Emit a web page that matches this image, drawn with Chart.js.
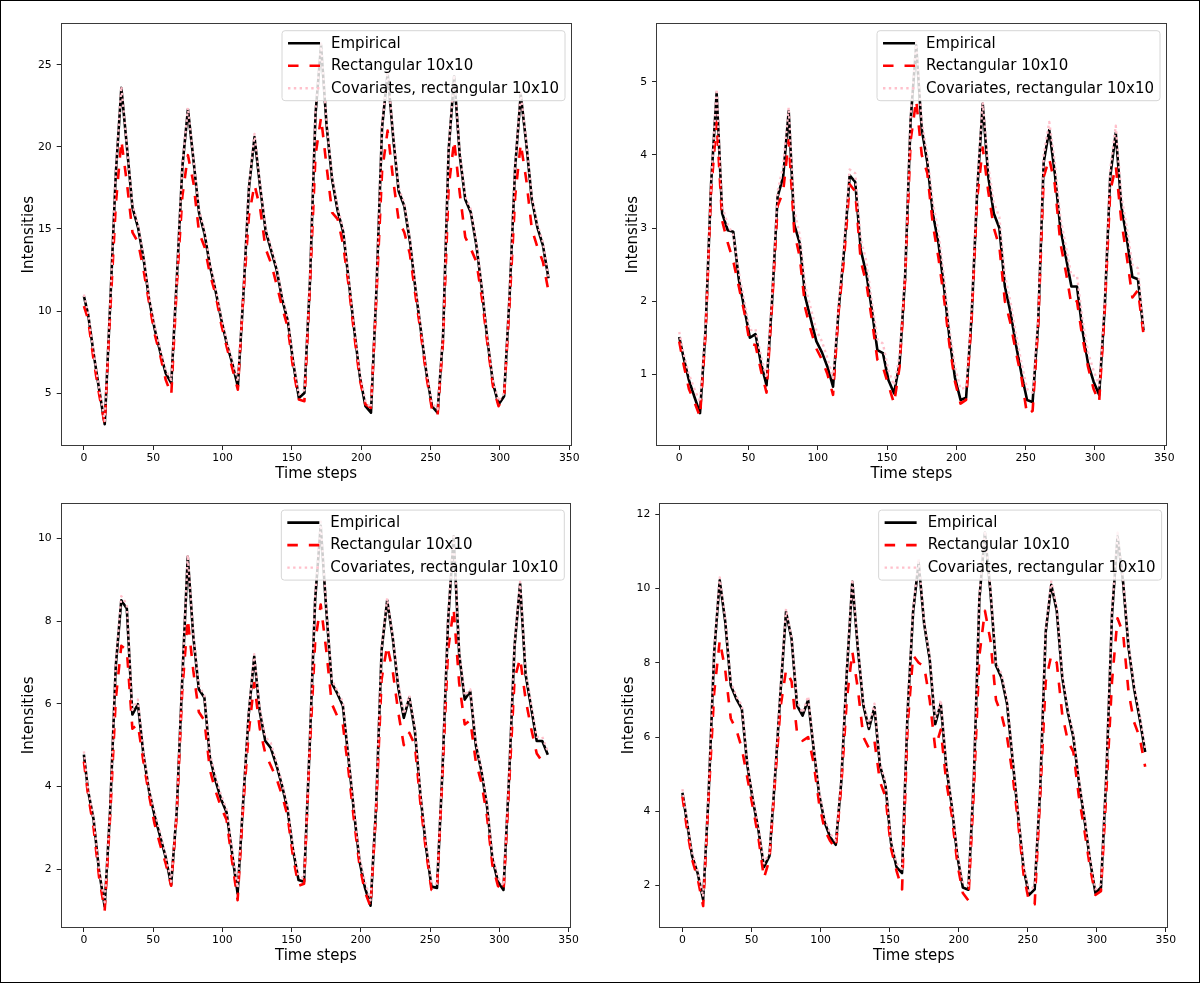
<!DOCTYPE html>
<html>
<head>
<meta charset="utf-8">
<script src="https://cdn.jsdelivr.net/npm/chart.js@4.4.1/dist/chart.umd.min.js"></script>
<style>
    html, body { margin: 0; padding: 0; background: #fff; }
    #page { position: relative; width: 1200px; height: 983px; overflow: hidden; background: #fff; }
    .panel { position: absolute; }
    #frame { position: absolute; left: 0; top: 0; width: 1200px; height: 983px; box-sizing: border-box; border: 1px solid #000; pointer-events: none; }
</style>
</head>
<body>
<div id="page">
    <canvas id="c1" class="panel" style="left:0px;top:0px"></canvas>
    <canvas id="c2" class="panel" style="left:600px;top:0px"></canvas>
    <canvas id="c3" class="panel" style="left:0px;top:490px"></canvas>
    <canvas id="c4" class="panel" style="left:600px;top:490px"></canvas>
    <div id="frame"></div>
</div>
<script>
// ==================
//       DATA
// ==================

const steps = [0, 3, 7, 11, 15, 19, 23,
    27, 31, 35, 39, 43, 47, 51, 55, 59, 63, 67, 71,
    75, 79, 83, 87, 91, 95, 99, 103, 107, 111, 115, 119,
    123, 127, 131, 135, 139, 143, 147, 151, 155, 159, 163, 167,
    171, 175, 179, 183, 187, 191, 195, 199, 203, 207, 211, 215,
    219, 223, 227, 231, 235, 239, 243, 247, 251, 255, 259, 263,
    267, 271, 275, 279, 283, 287, 291, 295, 299, 303, 307, 311,
    315, 319, 323, 327, 331, 335]

const xTicks = [0, 50, 100, 150, 200, 250, 300, 350]

const labels = ["Empirical", "Rectangular 10x10", "Covariates, rectangular 10x10"]

// PANEL 1 (TOP LEFT)
const p1Empirical = [10.9, 9.8, 7.4, 5.2, 3.1, 10.5, 18.4,
    23.6, 20.0, 16.3, 15.1, 13.2, 10.7, 8.9, 7.5, 6.2, 5.6, 12.0, 18.8,
    22.3, 19.2, 16.0, 14.7, 12.7, 11.2, 9.5, 8.0, 6.8, 5.4, 11.0, 17.5,
    20.6, 17.6, 14.9, 13.7, 12.5, 10.7, 9.4, 6.8, 4.7, 5.0, 11.8, 22.0,
    26.2, 21.3, 18.0, 16.1, 14.8, 11.8, 8.8, 6.0, 4.2, 3.8, 11.4, 21.2,
    24.5, 20.6, 17.3, 16.4, 14.3, 11.4, 8.8, 6.2, 4.2, 3.8, 8.5, 19.8,
    24.3, 19.5, 16.8, 16.0, 14.0, 11.3, 8.2, 5.6, 4.3, 4.8, 11.0, 18.8,
    23.2, 20.2, 16.8, 15.1, 14.0, 12.0]
const p1Rect = [10.3, 9.5, 7.0, 4.9, 3.1, 10.0, 16.5,
    20.4, 17.8, 14.8, 14.2, 12.5, 10.5, 8.6, 7.3, 5.8, 4.9, 11.6, 17.0,
    19.5, 17.8, 14.8, 13.9, 12.2, 11.0, 9.2, 7.8, 6.5, 5.2, 11.0, 15.8,
    17.7, 16.3, 13.8, 12.9, 11.6, 10.2, 9.0, 6.4, 4.6, 4.5, 11.5, 19.5,
    21.8, 18.8, 16.0, 15.6, 14.0, 11.5, 8.5, 5.8, 4.3, 4.1, 11.0, 18.5,
    21.0, 18.0, 15.5, 14.8, 13.5, 11.0, 8.6, 6.0, 4.0, 3.6, 8.2, 17.5,
    20.4, 17.2, 14.5, 13.8, 13.0, 10.8, 8.0, 5.4, 4.2, 4.8, 10.5, 17.0,
    20.2, 18.0, 15.0, 13.9, 13.0, 11.2]
const p1Cov = [11.0, 9.9, 7.5, 5.3, 3.3, 10.6, 18.5,
    23.7, 20.1, 16.5, 15.3, 13.4, 10.9, 9.1, 7.7, 6.4, 5.8, 12.1, 18.9,
    22.4, 19.3, 16.2, 14.9, 12.9, 11.4, 9.7, 8.2, 7.0, 5.7, 11.2, 17.6,
    20.8, 17.8, 15.1, 13.9, 12.7, 10.9, 9.6, 7.0, 4.9, 5.2, 12.0, 22.2,
    26.3, 21.5, 18.2, 16.3, 15.0, 12.0, 9.0, 6.2, 4.5, 4.1, 11.5, 21.3,
    24.6, 20.8, 17.5, 16.6, 14.5, 11.6, 9.0, 6.4, 4.4, 4.0, 8.7, 19.9,
    24.4, 19.7, 17.0, 16.2, 14.2, 11.5, 8.4, 5.8, 4.5, 5.0, 11.2, 18.9,
    23.3, 20.4, 17.0, 15.3, 14.2, 12.1]
const p1Ticks = [5, 10, 15, 20, 25]

// PANEL 2 (TOP RIGHT)
const p2Empirical = [1.51, 1.24, 0.92, 0.69, 0.47, 1.6, 3.6,
    4.85, 3.2, 2.97, 2.95, 2.3, 1.9, 1.5, 1.55, 1.15, 0.85, 2.0, 3.43,
    3.7, 4.6, 3.05, 2.79, 2.05, 1.75, 1.45, 1.3, 1.1, 0.83, 1.88, 2.7,
    3.72, 3.63, 2.7, 2.38, 1.88, 1.33, 1.29, 0.92, 0.74, 1.15, 2.33, 4.48,
    5.5, 4.35, 3.9, 3.2, 2.8, 2.2, 1.5, 0.95, 0.65, 0.68, 1.8, 3.5,
    4.7, 3.7, 3.2, 3.0, 2.2, 1.85, 1.4, 1.0, 0.65, 0.62, 1.7, 3.9,
    4.34, 3.75, 3.0, 2.6, 2.2, 2.2, 1.6, 1.15, 0.9, 0.72, 1.9, 3.7,
    4.3, 3.3, 2.85, 2.33, 2.3, 1.6]
const p2Rect = [1.45, 1.15, 0.8, 0.62, 0.42, 1.55, 3.5,
    4.45, 3.1, 2.8, 2.55, 2.2, 1.85, 1.42, 1.4, 1.05, 0.75, 1.95, 3.3,
    3.5, 4.2, 2.95, 2.6, 1.9, 1.6, 1.35, 1.2, 1.0, 0.72, 1.85, 2.6,
    3.6, 3.5, 2.55, 2.25, 1.75, 1.2, 1.1, 0.85, 0.6, 1.1, 2.3, 4.2,
    4.75, 4.0, 3.75, 3.05, 2.6, 2.05, 1.4, 0.9, 0.6, 0.65, 1.75, 3.4,
    4.1, 3.5, 3.0, 2.75, 2.0, 1.7, 1.3, 0.95, 0.45, 0.5, 1.65, 3.7,
    3.95, 3.6, 2.8, 2.4, 1.95, 2.0, 1.5, 1.1, 0.8, 0.62, 1.85, 3.5,
    3.85, 3.1, 2.6, 2.05, 2.15, 1.55]
const p2Cov = [1.58, 1.3, 1.0, 0.8, 0.62, 1.65, 3.62,
    4.9, 3.3, 3.05, 2.9, 2.4, 2.0, 1.6, 1.62, 1.25, 0.95, 2.1, 3.5,
    3.85, 4.65, 3.25, 2.9, 2.2, 1.9, 1.6, 1.45, 1.22, 0.95, 1.95, 2.8,
    3.8, 3.75, 2.85, 2.55, 2.0, 1.48, 1.42, 1.05, 0.85, 1.25, 2.4, 4.55,
    5.55, 4.45, 4.0, 3.35, 2.95, 2.35, 1.62, 1.1, 0.8, 0.82, 1.9, 3.6,
    4.72, 3.85, 3.35, 3.15, 2.35, 2.0, 1.55, 1.15, 0.8, 0.75, 1.8, 4.0,
    4.45, 3.9, 3.15, 2.75, 2.35, 2.35, 1.75, 1.3, 1.05, 0.85, 2.0, 3.8,
    4.4, 3.45, 3.0, 2.5, 2.45, 1.65]
const p2Ticks = [1, 2, 3, 4, 5]

// PANEL 3 (BOTTOM LEFT)
const p3Empirical = [4.77, 3.9, 3.2, 1.95, 1.1, 3.46, 6.9,
    8.5, 8.3, 5.74, 5.99, 4.77, 3.9, 3.3, 2.8, 2.3, 1.62, 3.38, 6.56,
    9.55, 7.63, 6.35, 6.15, 4.7, 4.15, 3.7, 3.38, 2.39, 1.41, 3.62, 5.74,
    7.14, 5.8, 5.1, 4.93, 4.52, 4.03, 3.46, 2.47, 1.74, 1.7, 4.93, 8.52,
    10.3, 8.28, 6.5, 6.25, 5.95, 4.7, 3.4, 2.2, 1.55, 1.12, 3.5, 7.3,
    8.5, 7.6, 6.4, 5.66, 6.15, 5.35, 3.8, 2.55, 1.58, 1.55, 4.44, 8.0,
    10.05, 7.2, 6.1, 6.3, 5.0, 4.38, 3.55, 2.25, 1.7, 1.5, 4.2, 7.4,
    8.9, 6.7, 5.9, 5.1, 5.1, 4.77]
const p3Rect = [4.6, 3.8, 3.0, 1.8, 1.0, 3.3, 6.1,
    7.4, 7.3, 5.4, 5.5, 4.6, 3.8, 3.1, 2.6, 2.15, 1.6, 3.3, 6.3,
    8.05, 6.8, 5.8, 5.6, 4.4, 3.9, 3.5, 3.2, 2.2, 1.25, 3.5, 5.3,
    6.5, 5.4, 4.8, 4.5, 4.2, 3.8, 3.3, 2.3, 1.6, 1.65, 4.8, 7.5,
    8.4, 7.3, 6.0, 5.7, 5.5, 4.4, 3.2, 2.1, 1.45, 1.1, 3.4, 6.6,
    7.4, 6.8, 5.8, 5.0, 5.3, 5.0, 3.6, 2.45, 1.5, 1.5, 4.3, 7.3,
    8.3, 6.5, 5.5, 5.6, 4.6, 4.1, 3.3, 2.1, 1.6, 1.45, 4.0, 6.6,
    7.1, 6.1, 5.4, 4.8, 4.6, 4.5]
const p3Cov = [4.85, 3.95, 3.25, 2.0, 1.2, 3.5, 7.0,
    8.6, 8.4, 5.85, 6.1, 4.85, 3.95, 3.4, 2.9, 2.35, 1.7, 3.45, 6.6,
    9.6, 7.7, 6.45, 6.2, 4.8, 4.25, 3.8, 3.45, 2.5, 1.55, 3.7, 5.8,
    7.2, 5.9, 5.2, 5.05, 4.6, 4.1, 3.55, 2.55, 1.85, 1.78, 5.0, 8.6,
    10.4, 8.35, 6.6, 6.3, 6.05, 4.8, 3.5, 2.3, 1.7, 1.25, 3.6, 7.35,
    8.55, 7.65, 6.5, 5.75, 6.2, 5.45, 3.9, 2.65, 1.7, 1.65, 4.5, 8.05,
    10.1, 7.3, 6.2, 6.35, 5.1, 4.45, 3.65, 2.35, 1.8, 1.6, 4.3, 7.45,
    8.95, 6.8, 6.0, 5.2, 5.2, 4.85]
const p3Ticks = [2, 4, 6, 8, 10]

// PANEL 4 (BOTTOM RIGHT)
const p4Empirical = [4.5, 3.78, 2.8, 2.34, 1.62, 4.5, 8.29,
    10.22, 9.1, 7.39, 7.03, 6.76, 5.23, 4.3, 3.5, 2.5, 2.8, 4.9, 7.21,
    9.37, 8.65, 6.85, 6.58, 7.0, 5.68, 4.45, 3.7, 3.3, 3.1, 4.8, 7.75,
    10.18, 8.38, 6.85, 6.22, 6.8, 5.23, 4.7, 3.15, 2.5, 2.34, 6.67, 9.37,
    10.7, 9.05, 8.1, 6.35, 6.9, 5.2, 4.14, 2.8, 1.95, 1.89, 4.9, 9.73,
    11.5, 9.91, 7.93, 7.6, 6.9, 5.4, 3.9, 2.45, 1.75, 1.9, 4.6, 8.83,
    10.1, 9.4, 7.6, 6.67, 6.0, 4.8, 3.8, 2.7, 1.8, 1.95, 5.05, 9.3,
    11.4, 10.18, 8.4, 7.3, 6.5, 5.6]
const p4Rect = [4.4, 3.6, 2.7, 2.2, 1.45, 4.4, 7.2,
    8.6, 7.8, 6.5, 6.2, 5.7, 4.9, 4.1, 3.3, 2.2, 2.7, 4.8, 6.8,
    7.8, 7.5, 6.1, 5.9, 6.0, 5.3, 4.2, 3.5, 3.2, 3.0, 4.7, 7.0,
    8.3, 7.3, 6.0, 5.7, 5.9, 4.8, 4.4, 3.0, 2.4, 1.9, 6.3, 8.2,
    8.0, 7.9, 7.0, 5.7, 6.2, 4.8, 3.9, 2.6, 1.8, 1.6, 4.6, 8.2,
    9.4, 8.6, 7.0, 6.6, 6.0, 5.0, 3.7, 2.3, 1.55, 1.5, 4.4, 7.5,
    8.2, 8.0, 6.6, 5.9, 5.6, 4.4, 3.5, 2.5, 1.75, 1.85, 4.6, 7.5,
    9.2, 8.8, 7.2, 6.4, 6.0, 5.2]
const p4Cov = [4.6, 3.85, 2.9, 2.4, 1.7, 4.6, 8.35,
    10.3, 9.2, 7.5, 7.1, 6.85, 5.3, 4.4, 3.6, 2.6, 2.9, 5.0, 7.3,
    9.45, 8.7, 6.95, 6.65, 7.1, 5.75, 4.55, 3.8, 3.4, 3.2, 4.9, 7.8,
    10.25, 8.45, 6.95, 6.3, 6.9, 5.3, 4.8, 3.25, 2.6, 2.45, 6.75, 9.45,
    10.8, 9.1, 8.2, 6.45, 7.0, 5.3, 4.25, 2.9, 2.1, 2.0, 5.0, 9.8,
    11.55, 10.0, 8.0, 7.7, 7.0, 5.5, 4.0, 2.55, 1.85, 2.0, 4.7, 8.9,
    10.2, 9.5, 7.7, 6.75, 6.1, 4.9, 3.9, 2.8, 1.9, 2.05, 5.15, 9.4,
    11.5, 10.25, 8.5, 7.4, 6.6, 5.7]
const p4Ticks = [2, 4, 6, 8, 10, 12]


// ==================
//      STYLE
// ==================

Chart.defaults.font.family = '"DejaVu Sans", sans-serif'
Chart.defaults.color = "#000"

const lineStyles = [
    { borderColor: "#000000", borderWidth: 2.6, borderDash: [], order: 3 },
    { borderColor: "#ff0000", borderWidth: 2.6, borderDash: [10.5, 11], order: 2 },
    { borderColor: "#ffc0cb", borderWidth: 2.4, borderDash: [2.4, 3.4], order: 1 }
]


// FRAME + LEGEND ALA MATPLOTLIB
const mplLegend = {
    id: "mplLegend",
    afterDraw(chart) {
        const ctx = chart.ctx
        const a = chart.chartArea
        ctx.save()

        // SPINES
        ctx.strokeStyle = "#3a3a3a"
        ctx.lineWidth = 1
        ctx.setLineDash([])
        ctx.strokeRect(Math.round(a.left) + 0.5, Math.round(a.top) + 0.5,
            Math.round(a.right - a.left) - 1, Math.round(a.bottom - a.top) - 1)

        // LEGEND BOX
        ctx.font = '15px "DejaVu Sans"'
        const textW = Math.max(...labels.map(l => ctx.measureText(l).width))
        const pad = 6, handle = 32, gap = 11, rowH = 22.5, firstRow = 12.5
        const w = pad + handle + gap + textW + pad
        const h = firstRow * 2 + rowH * 2
        const x0 = a.right - 6.7 - w
        const y0 = a.top + 7.4

        ctx.beginPath()
        ctx.roundRect(x0, y0, w, h, 3)
        ctx.fillStyle = "rgba(255,255,255,0.8)"
        ctx.fill()
        ctx.strokeStyle = "#d6d6d6"
        ctx.stroke()

        labels.forEach((label, i) => {
            const cy = y0 + firstRow + i * rowH
            const st = lineStyles[i]
            ctx.beginPath()
            ctx.setLineDash(st.borderDash)
            ctx.lineWidth = st.borderWidth
            ctx.strokeStyle = st.borderColor
            ctx.moveTo(x0 + pad, cy)
            ctx.lineTo(x0 + pad + handle, cy)
            ctx.stroke()

            ctx.setLineDash([])
            ctx.fillStyle = "#000"
            ctx.textBaseline = "middle"
            ctx.textAlign = "left"
            ctx.fillText(label, x0 + pad + handle + gap, cy + 0.5)
        })
        ctx.restore()
    }
}


// MAKE ONE PANEL
function makePanel(id, w, h, series, yMin, yMax, yTicks, box) {
    const canvas = document.getElementById(id)
    canvas.width = w
    canvas.height = h
    canvas.style.width = w + "px"
    canvas.style.height = h + "px"

    const datasets = series.map((vals, i) => ({
        label: labels[i],
        data: steps.map((t, k) => ({ x: t, y: vals[k] })),
        borderColor: lineStyles[i].borderColor,
        borderWidth: lineStyles[i].borderWidth,
        borderDash: lineStyles[i].borderDash,
        order: lineStyles[i].order,
        pointRadius: 0,
        tension: 0,
        borderJoinStyle: "round",
        borderCapStyle: "butt",
        fill: false
    }))

    const tickGrid = {
        drawOnChartArea: false,
        drawTicks: true,
        tickLength: 4,
        color: "#222",
        lineWidth: 1
    }

    return new Chart(canvas.getContext("2d"), {
        type: "line",
        data: { datasets },
        options: {
            responsive: false,
            animation: false,
            devicePixelRatio: 1,
            layout: { padding: { top: box.top, right: box.right, left: 0, bottom: 0 } },
            plugins: {
                legend: { display: false },
                tooltip: { enabled: false }
            },
            scales: {
                x: {
                    type: "linear",
                    min: -16.75,
                    max: 351.75,
                    afterBuildTicks: s => { s.ticks = xTicks.map(v => ({ value: v })) },
                    afterFit: s => { s.height = 44 },
                    grid: tickGrid,
                    border: { display: false },
                    ticks: { font: { size: 10.8 }, color: "#000", padding: 2, maxRotation: 0, autoSkip: false },
                    title: { display: true, text: "Time steps", font: { size: 15 }, color: "#000", padding: { top: 0, bottom: 7 } }
                },
                y: {
                    type: "linear",
                    min: yMin,
                    max: yMax,
                    afterBuildTicks: s => { s.ticks = yTicks.map(v => ({ value: v })) },
                    afterFit: s => { s.width = box.left },
                    grid: tickGrid,
                    border: { display: false },
                    ticks: { font: { size: 10.8 }, color: "#000", padding: 5, autoSkip: false },
                    title: { display: true, text: "Intensities", font: { size: 15 }, color: "#000", padding: { top: box.title, bottom: 0 } }
                }
            }
        },
        plugins: [mplLegend]
    })
}


makePanel("c1", 600, 490, [p1Empirical, p1Rect, p1Cov], 1.77, 27.54, p1Ticks,
    { left: 60.7, top: 23.3, right: 28.3, title: 19.8 })
makePanel("c2", 600, 490, [p2Empirical, p2Rect, p2Cov], 0.02, 5.80, p2Ticks,
    { left: 56, top: 23.3, right: 33.3, title: 24 })
makePanel("c3", 600, 482, [p3Empirical, p3Rect, p3Cov], 0.58, 10.86, p3Ticks,
    { left: 60.7, top: 12.7, right: 29, title: 19.8 })
makePanel("c4", 600, 482, [p4Empirical, p4Rect, p4Cov], 0.86, 12.31, p4Ticks,
    { left: 59.3, top: 12.7, right: 31.7, title: 19.8 })
</script>
</body>
</html>
